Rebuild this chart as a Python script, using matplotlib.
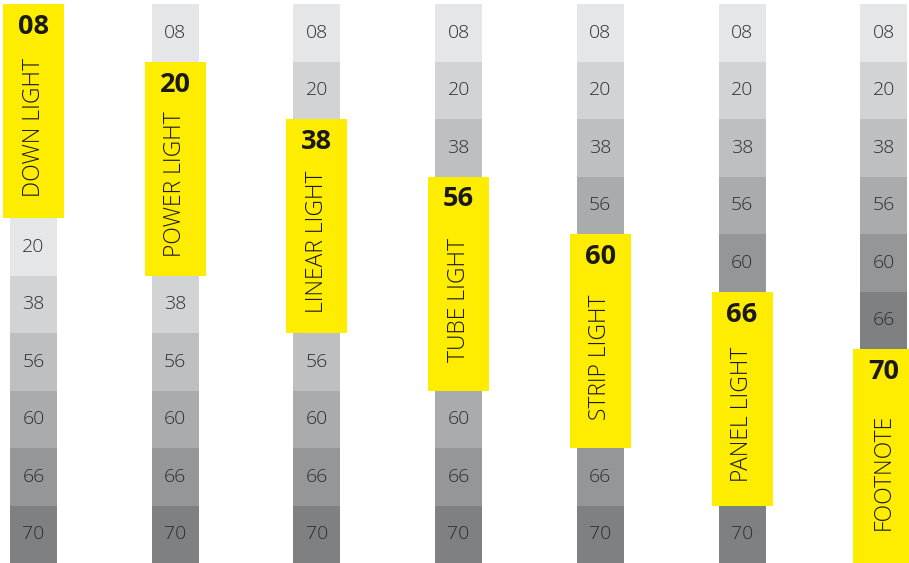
import matplotlib
matplotlib.use("Agg")
import matplotlib.pyplot as plt

# ── Daten ─────────────────────────────────────────────────────────────────────
levels = ["08", "20", "38", "56", "60", "66", "70"]
products = ["DOWN LIGHT", "POWER LIGHT", "LINEAR LIGHT", "TUBE LIGHT",
            "STRIP LIGHT", "PANEL LIGHT", "FOOTNOTE"]
highlight = ["08", "20", "38", "56", "60", "66", "70"]   # je Spalte hervorgehoben

# Grautöne nach Rang innerhalb der Spalte (hell -> dunkel)
shades = ["#e5e6e8", "#d2d3d5", "#bebfc1", "#aaabad", "#959698", "#7f8082"]

YELLOW = "#ffed00"
TXT_GRAY = "#2e2e30"
TXT_DARK = "#1a1a1a"

# ── Layout ────────────────────────────────────────────────────────────────────
col_x0, col_dx = 33.5, 141.7
strip_w, box_w = 47, 61
cell_h, box_h = 57.5, 214
top = 4

fig = plt.figure(figsize=(9.09, 5.63), dpi=100, facecolor="white")
ax = fig.add_axes([0, 0, 1, 1])
ax.set_xlim(0, 909)
ax.set_ylim(563, 0)
ax.axis("off")

for i, (prod, hl) in enumerate(zip(products, highlight)):
    x = col_x0 + i * col_dx
    y = top
    rank = 0
    for lvl in levels:
        if lvl == hl:
            ax.bar(x, box_h, bottom=y, width=box_w, color=YELLOW, zorder=3)
            ax.text(x, y + 23, lvl, ha="center", va="center", fontsize=19.5,
                    fontweight="bold", color=TXT_DARK, family="Open Sans", zorder=4)
            ax.text(x, y + 0.575 * box_h, prod, ha="center", va="center",
                    rotation=90, fontsize=16.5, color=TXT_DARK,
                    family="Open Sans", fontweight="light", zorder=4)
            y += box_h
        else:
            ax.bar(x, cell_h, bottom=y, width=strip_w, color=shades[rank], zorder=2)
            ax.text(x, y + cell_h / 2, lvl, ha="center", va="center",
                    fontsize=14, color=TXT_GRAY, family="Open Sans",
                    fontweight="light", zorder=4)
            rank += 1
            y += cell_h

fig.savefig("out.png", dpi=100, facecolor="white")
plt.close(fig)
